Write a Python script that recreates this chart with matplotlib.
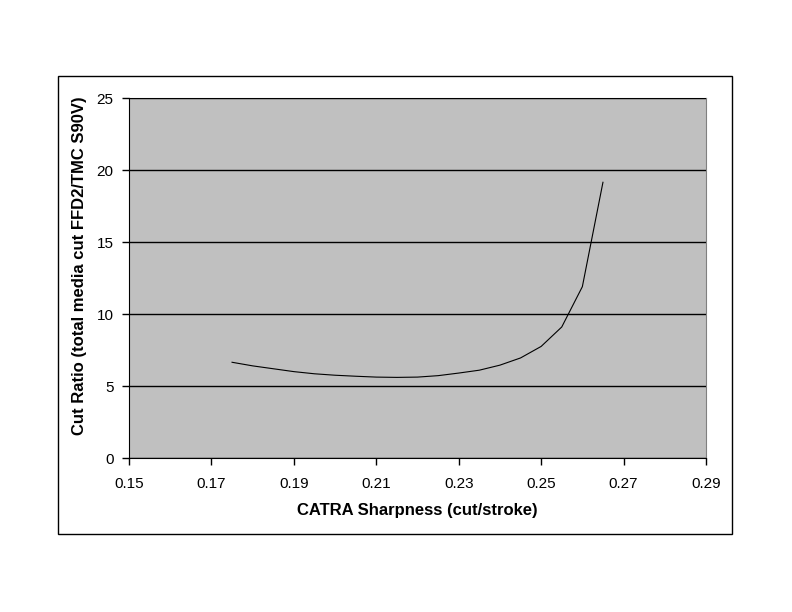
import matplotlib
matplotlib.use('Agg')
import matplotlib.pyplot as plt
from matplotlib.patches import Rectangle

plt.rcParams['font.family'] = ['Liberation Sans', 'DejaVu Sans']

sharpness = [0.175, 0.180, 0.185, 0.190, 0.195, 0.200, 0.205, 0.210, 0.215,
             0.220, 0.225, 0.230, 0.235, 0.240, 0.245, 0.250, 0.255, 0.260, 0.265]
cut_ratio = [6.65, 6.40, 6.20, 6.00, 5.85, 5.75, 5.68, 5.62, 5.60,
             5.62, 5.72, 5.90, 6.10, 6.45, 6.95, 7.75, 9.10, 11.90, 19.15]

x_ticks = [0.15, 0.17, 0.19, 0.21, 0.23, 0.25, 0.27, 0.29]
y_ticks = [0, 5, 10, 15, 20, 25]

fig = plt.figure(figsize=(7.92, 6.12), dpi=100)

# outer chart frame
fig.patches.append(Rectangle((0.0732, 0.1275), 0.851, 0.748, transform=fig.transFigure,
                             fill=False, edgecolor='black', linewidth=1.0))

ax = fig.add_axes([0.1629, 0.2516, 0.7285, 0.5882])
ax.set_facecolor('#c0c0c0')
ax.plot(sharpness, cut_ratio, color='black', linewidth=0.8)

ax.set_xlim(0.15, 0.29)
ax.set_ylim(0, 25)
ax.set_xticks(x_ticks)
ax.set_xticklabels(['%.2f' % t for t in x_ticks])
ax.set_yticks(y_ticks)
ax.yaxis.grid(True, color='black', linewidth=1.0)
ax.set_axisbelow(False)

for side in ['top', 'right']:
    ax.spines[side].set_color('#808080')
for side in ['left', 'bottom']:
    ax.spines[side].set_color('black')

ax.tick_params(axis='both', direction='out', length=5, width=1, labelsize=11, color='black')
ax.tick_params(axis='y', pad=6)
ax.tick_params(axis='x', pad=8.5)

ax.set_xlabel('CATRA Sharpness (cut/stroke)', fontsize=12, fontweight='bold', labelpad=9)
ax.set_ylabel('Cut Ratio (total media cut FFD2/TMC S90V)', fontsize=12, fontweight='bold')
ax.yaxis.set_label_coords(-0.072, 0.535)

fig.savefig('out.png', dpi=100)
